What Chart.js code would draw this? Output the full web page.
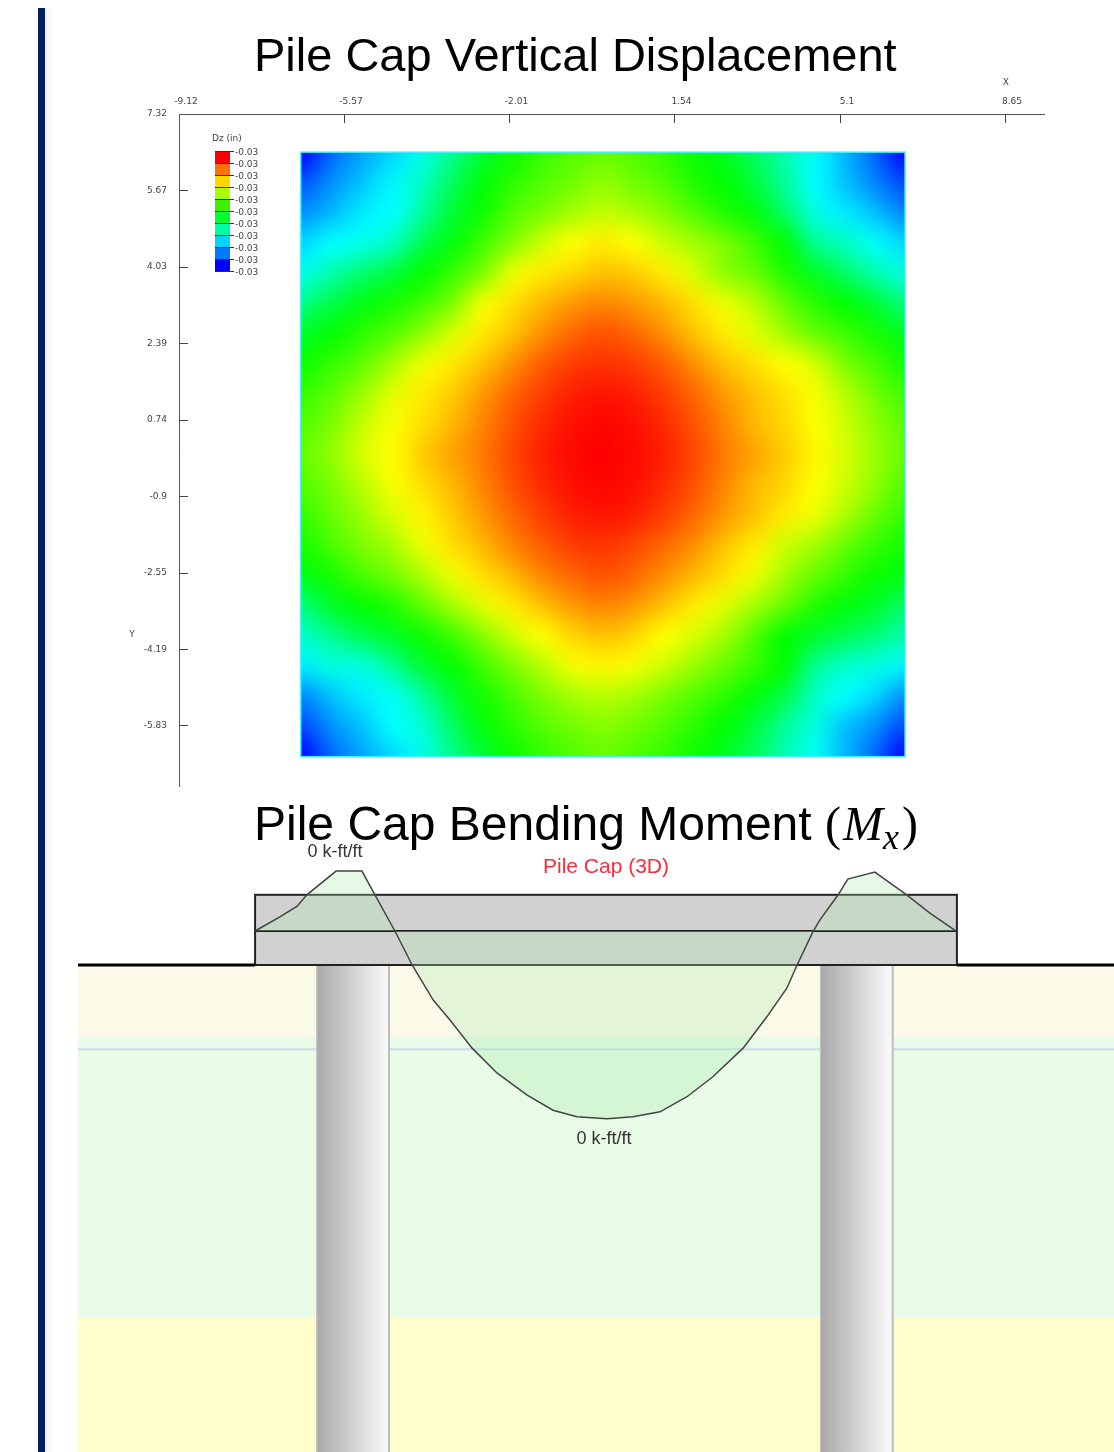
<!DOCTYPE html>
<html>
<head>
<meta charset="utf-8">
<title>Pile Cap</title>
<script src="https://cdn.jsdelivr.net/npm/chart.js@4/dist/chart.umd.js"></script>
<style>
    html, body { margin: 0; padding: 0; background: #fff; width: 1114px; height: 1452px; overflow: hidden; }
    canvas { position: absolute; left: 0; }
    #bar { position: absolute; left: 38px; top: 8px; width: 7px; height: 1444px; background: #002060; }
    #sombra { position: absolute; left: 45px; top: 8px; width: 10px; height: 1444px; background: linear-gradient(to right, #f1f1f1, #fff); }
    .titulo { position: absolute; white-space: nowrap; color: #000; font-family: "Liberation Sans", sans-serif; font-size: 47px; line-height: 50px; z-index: 2; }
    .titulo .m { font-family: "Liberation Serif", serif; }
    .titulo .m i { margin-left: 2px; }
    .titulo sub { font-size: 36px; line-height: 0; vertical-align: -9px; font-style: italic; }
</style>
</head>
<body>
<div id="bar"></div>
<div id="sombra"></div>
<div class="titulo" style="left:254px;top:30px">Pile Cap Vertical Displacement</div>
<div class="titulo" style="left:254px;top:799px;font-size:48px">Pile Cap Bending Moment <span class="m">(<i>M</i><sub>x</sub><span style="margin-left:3px">)</span></span></div>
<canvas id="desplazamiento" width="1114" height="790" style="top:0"></canvas>
<canvas id="momento" width="1114" height="662" style="top:790px"></canvas>
<script>
// contour plot (ft)
const xTicks = [-9.12, -5.57, -2.01, 1.54, 5.1, 8.65];
const yTicks = [7.32, 5.67, 4.03, 2.39, 0.74, -0.9, -2.55, -4.19, -5.83];
const capEdges = [-6.5, -5.85, -5.2, -4.55, -3.9, -3.25, -2.6, -1.95, -1.3, -0.65, 0, 0.65, 1.3, 1.95, 2.6, 3.25, 3.9, 4.55, 5.2, 5.85, 6.5];
const legendTitle = "Dz (in)";
const legendLabels = ["-0.03", "-0.03", "-0.03", "-0.03", "-0.03", "-0.03", "-0.03", "-0.03", "-0.03", "-0.03", "-0.03"];
const legendColors = ["#ff0000", "#ff7300", "#ffd800", "#a8ff00", "#3cf000", "#00ff33", "#00ffa5", "#00d5ff", "#0078ff", "#0000ff"];

const dz = [
    [0, .10, .16, .21, .27, .36, .45, .51, .55, .58, .60, .58, .55, .51, .47, .41, .33, .26, .18, .10, 0],
    [.08, .14, .19, .24, .31, .41, .49, .54, .58, .61, .64, .61, .58, .53, .50, .44, .35, .25, .19, .13, .07],
    [.14, .18, .23, .25, .34, .45, .51, .58, .62, .66, .69, .67, .63, .58, .53, .49, .40, .28, .23, .19, .13],
    [.21, .25, .27, .31, .42, .49, .56, .63, .70, .75, .77, .75, .70, .66, .62, .56, .50, .36, .31, .26, .21],
    [.27, .33, .39, .44, .50, .55, .62, .73, .77, .79, .81, .80, .77, .71, .64, .60, .53, .47, .40, .33, .28],
    [.37, .43, .48, .52, .56, .62, .74, .78, .82, .85, .87, .85, .82, .78, .73, .68, .60, .54, .50, .45, .38],
    [.46, .50, .54, .58, .64, .71, .77, .81, .86, .90, .92, .90, .86, .81, .77, .72, .66, .60, .56, .52, .47],
    [.51, .55, .59, .66, .73, .77, .81, .86, .91, .94, .95, .94, .91, .86, .81, .78, .75, .71, .62, .57, .52],
    [.55, .59, .65, .72, .77, .80, .85, .90, .94, .97, .98, .97, .94, .90, .85, .81, .78, .74, .68, .61, .56],
    [.58, .62, .69, .74, .78, .82, .87, .92, .96, .985, .995, .985, .96, .92, .87, .82, .79, .75, .70, .64, .59],
    [.60, .64, .71, .75, .80, .84, .88, .93, .97, .99, 1, .99, .97, .93, .88, .84, .80, .76, .71, .65, .60],
    [.58, .62, .68, .74, .78, .82, .87, .92, .96, .985, .995, .985, .96, .92, .87, .82, .79, .75, .70, .64, .58],
    [.55, .60, .65, .71, .76, .80, .85, .90, .94, .97, .98, .97, .94, .90, .85, .81, .77, .73, .67, .60, .55],
    [.52, .57, .62, .66, .73, .78, .82, .87, .91, .94, .95, .93, .90, .86, .81, .77, .70, .66, .60, .55, .52],
    [.48, .52, .57, .61, .67, .73, .78, .82, .87, .90, .92, .90, .86, .82, .78, .73, .66, .60, .55, .51, .48],
    [.38, .46, .50, .53, .59, .66, .72, .77, .81, .85, .87, .85, .81, .77, .72, .66, .60, .53, .49, .46, .40],
    [.30, .36, .42, .46, .51, .56, .63, .70, .75, .79, .81, .79, .75, .71, .66, .58, .50, .46, .42, .38, .33],
    [.23, .28, .28, .35, .45, .50, .56, .62, .68, .74, .76, .74, .70, .65, .60, .55, .50, .36, .30, .28, .24],
    [.13, .19, .23, .26, .34, .45, .52, .57, .62, .66, .68, .66, .62, .58, .54, .49, .43, .31, .25, .21, .14],
    [.07, .14, .19, .25, .29, .40, .49, .54, .58, .61, .63, .61, .58, .54, .50, .44, .35, .28, .19, .14, .07],
    [0, .10, .16, .21, .27, .36, .45, .51, .55, .58, .60, .58, .55, .51, .47, .41, .33, .26, .18, .10, 0],
];

// section view, elevations in ft from ground level
const momentX = [-6.50, -6.04, -5.72, -5.54, -5.00, -4.52, -4.28, -3.91, -3.59, -3.50, -3.20, -2.89, -2.48, -2.02, -1.46, -0.98, -0.54, 0.02, 0.50, 1.00, 1.50, 1.98, 2.54, 2.98, 3.35, 3.54, 3.83, 3.96, 4.30, 4.48, 4.98, 5.57, 6.00, 6.48];
const momentY = [0.63, 0.89, 1.09, 1.30, 1.74, 1.74, 1.30, 0.63, 0, -0.15, -0.65, -1.02, -1.54, -2.00, -2.41, -2.69, -2.81, -2.85, -2.81, -2.72, -2.44, -2.07, -1.54, -0.96, -0.43, 0, 0.61, 0.83, 1.30, 1.59, 1.72, 1.30, 0.96, 0.63];
const momentBase = 0.63;
const momentLabel = "0 k-ft/ft";
const capLabel = "Pile Cap (3D)";
const capX = [-6.5, 6.5];
const capLevels = [1.30, 0.63, 0];
const pileX = [[-5.35, -4.02], [3.98, 5.31]];
const soilBottoms = [-1.33, -6.54, -9.02];
const waterLevel = -1.56;

const soilColors = ["#fbfae8", "#e7fbe7", "#fefdcb"];

function rainbow(v) {
    const t = Math.max(0, Math.min(1, v)) * 4;
    const k = Math.min(3, Math.floor(t));
    const f = t - k;
    const c = [[0, f, 1], [0, 1, 1 - f], [f, 1, 0], [1, 1 - f, 0]][k];
    return c.map((n) => Math.round(n * 255));
}

const contourPlugin = {
    id: "contour",
    beforeDatasetsDraw(chart) {
        const ctx = chart.ctx;
        const { x, y } = chart.scales;
        const n = capEdges.length;
        const off = document.createElement("canvas");
        off.width = n;
        off.height = n;
        const octx = off.getContext("2d");
        const img = octx.createImageData(n, n);
        dz.forEach((fila, j) => fila.forEach((v, i) => {
            const c = rainbow(v);
            img.data.set([c[0], c[1], c[2], 255], (j * n + i) * 4);
        }));
        octx.putImageData(img, 0, 0);

        const x0 = x.getPixelForValue(capEdges[0]);
        const x1 = x.getPixelForValue(capEdges[n - 1]);
        const y0 = y.getPixelForValue(capEdges[n - 1]);
        const y1 = y.getPixelForValue(capEdges[0]);
        const dx = (x1 - x0) / (n - 1);
        const dy = (y1 - y0) / (n - 1);
        ctx.save();
        ctx.beginPath();
        ctx.rect(x0, y0, x1 - x0, y1 - y0);
        ctx.clip();
        ctx.imageSmoothingEnabled = true;
        ctx.imageSmoothingQuality = "high";
        ctx.drawImage(off, x0 - dx / 2, y0 - dy / 2, dx * n, dy * n);
        ctx.restore();
        ctx.strokeStyle = "#3ff0f5";
        ctx.lineWidth = 1.5;
        ctx.strokeRect(x0, y0, x1 - x0, y1 - y0);
    },
    afterDraw(chart) {
        const ctx = chart.ctx;
        const { x, y } = chart.scales;
        const area = chart.chartArea;
        ctx.save();
        // inward tick marks
        ctx.strokeStyle = "#444";
        ctx.lineWidth = 1;
        ctx.beginPath();
        xTicks.slice(1).forEach((v) => {
            const p = Math.round(x.getPixelForValue(v)) + 0.5;
            ctx.moveTo(p, area.top);
            ctx.lineTo(p, area.top + 9);
        });
        yTicks.slice(1).forEach((v) => {
            const p = Math.floor(y.getPixelForValue(v)) + 0.5;
            ctx.moveTo(area.left, p);
            ctx.lineTo(area.left + 9, p);
        });
        ctx.stroke();

        ctx.font = "9px 'DejaVu Sans'";
        ctx.fillStyle = "#444";
        ctx.textAlign = "center";
        ctx.textBaseline = "middle";
        ctx.fillText("X", x.getPixelForValue(8.65) + 1, 83);
        ctx.fillText("Y", 132, 635);

        // colour key
        const kx = 215, ky = 151, kw = 15, kh = 12;
        legendColors.forEach((c, i) => {
            ctx.fillStyle = c;
            ctx.fillRect(kx, ky + i * kh, kw, kh);
        });
        ctx.strokeStyle = "#333";
        ctx.beginPath();
        legendLabels.forEach((_, i) => {
            const p = ky + i * kh + 0.5;
            ctx.moveTo(kx, p);
            ctx.lineTo(kx + kw + 4, p);
        });
        ctx.stroke();
        ctx.fillStyle = "#444";
        ctx.textAlign = "left";
        legendLabels.forEach((t, i) => ctx.fillText(t, kx + kw + 5, ky + 2 + i * kh));
        ctx.fillText(legendTitle, 212, 139);
        ctx.restore();
    },
};

const sectionPlugin = {
    id: "section",
    beforeDatasetsDraw(chart) {
        const ctx = chart.ctx;
        const { x, y } = chart.scales;
        const area = chart.chartArea;
        const groundY = y.getPixelForValue(0);
        ctx.save();

        let top = groundY;
        soilBottoms.forEach((b, i) => {
            const bottom = y.getPixelForValue(b);
            ctx.fillStyle = soilColors[i];
            ctx.fillRect(area.left, top, area.right - area.left, bottom - top);
            top = bottom;
        });

        ctx.strokeStyle = "#c9daef";
        ctx.lineWidth = 2;
        ctx.beginPath();
        ctx.moveTo(area.left, y.getPixelForValue(waterLevel));
        ctx.lineTo(area.right, y.getPixelForValue(waterLevel));
        ctx.stroke();

        pileX.forEach((p) => {
            const a = x.getPixelForValue(p[0]);
            const b = x.getPixelForValue(p[1]);
            const grad = ctx.createLinearGradient(a, 0, b, 0);
            grad.addColorStop(0, "#a9a9a9");
            grad.addColorStop(0.5, "#d2d2d2");
            grad.addColorStop(1, "#fbfbfb");
            ctx.fillStyle = grad;
            ctx.fillRect(a, groundY, b - a, area.bottom - groundY);
            ctx.fillStyle = "#bdbdbd";
            ctx.fillRect(b - 1, groundY, 2, area.bottom - groundY);
            ctx.fillRect(a - 1, groundY, 1, area.bottom - groundY);
        });

        const cx0 = x.getPixelForValue(capX[0]);
        const cx1 = x.getPixelForValue(capX[1]);
        const cy0 = y.getPixelForValue(capLevels[0]);
        ctx.fillStyle = "#d1d1d1";
        ctx.fillRect(cx0, cy0, cx1 - cx0, groundY - cy0);
        ctx.strokeStyle = "#222";
        ctx.lineWidth = 2;
        ctx.strokeRect(cx0, cy0, cx1 - cx0, groundY - cy0);
        ctx.beginPath();
        ctx.moveTo(cx0, y.getPixelForValue(capLevels[1]));
        ctx.lineTo(cx1, y.getPixelForValue(capLevels[1]));
        ctx.stroke();

        ctx.strokeStyle = "#000";
        ctx.lineWidth = 3;
        ctx.beginPath();
        ctx.moveTo(area.left, groundY);
        ctx.lineTo(cx0, groundY);
        ctx.moveTo(cx1, groundY);
        ctx.lineTo(area.right, groundY);
        ctx.stroke();
        ctx.restore();
    },
    afterDatasetsDraw(chart) {
        const ctx = chart.ctx;
        const { x, y } = chart.scales;
        const peak = momentY.indexOf(Math.max(...momentY));
        const low = momentY.indexOf(Math.min(...momentY));
        ctx.save();
        ctx.textAlign = "center";
        ctx.textBaseline = "middle";
        ctx.font = "18px 'Liberation Sans'";
        ctx.fillStyle = "#333";
        ctx.fillText(momentLabel, x.getPixelForValue(momentX[peak]) - 1, y.getPixelForValue(momentY[peak]) - 19);
        ctx.fillText(momentLabel, x.getPixelForValue(momentX[low]) - 3, y.getPixelForValue(momentY[low]) + 20);
        ctx.font = "21px 'Liberation Sans'";
        ctx.fillStyle = "#ff2a3a";
        ctx.fillText(capLabel, x.getPixelForValue(0), y.getPixelForValue(capLevels[0]) - 28);
        ctx.restore();
    },
};

new Chart(document.getElementById("desplazamiento"), {
    type: "scatter",
    data: { datasets: [{ label: "Dz (in)", data: [], pointRadius: 0 }] },
    plugins: [contourPlugin],
    options: {
        responsive: false,
        animation: false,
        layout: { padding: { left: 129, top: 84, right: 70, bottom: 4 } },
        plugins: { legend: { display: false }, tooltip: { enabled: false } },
        scales: {
            x: {
                type: "linear",
                position: "top",
                min: -9.12,
                max: 9.49,
                grid: { display: false, drawTicks: false },
                border: { display: true, color: "#555" },
                afterBuildTicks: (s) => { s.ticks = xTicks.map((v) => ({ value: v })); },
                afterFit: (s) => { s.height = 30; s.paddingLeft = 0; s.paddingRight = 0; },
                ticks: {
                    autoSkip: false, maxRotation: 0, padding: 7, labelOffset: 7, color: "#444",
                    font: { family: "DejaVu Sans", size: 9 },
                    callback: (v) => String(v),
                },
            },
            y: {
                type: "linear",
                position: "left",
                min: -7.13,
                max: 7.32,
                grid: { display: false, drawTicks: false },
                border: { display: true, color: "#555" },
                afterBuildTicks: (s) => { s.ticks = yTicks.map((v) => ({ value: v })); },
                afterFit: (s) => { s.width = 50; s.paddingTop = 0; s.paddingBottom = 0; },
                ticks: {
                    autoSkip: false, padding: 12, color: "#444",
                    font: { family: "DejaVu Sans", size: 9 },
                    callback: (v) => String(v),
                },
            },
        },
    },
});

new Chart(document.getElementById("momento"), {
    type: "scatter",
    data: {
        datasets: [{
            label: "Mx",
            data: momentX.map((v, i) => ({ x: v, y: momentY[i] })),
            showLine: true,
            tension: 0,
            pointRadius: 0,
            borderColor: "#444",
            borderWidth: 1.5,
            backgroundColor: "rgba(172, 236, 172, 0.3)",
            fill: { value: momentBase },
        }],
    },
    plugins: [sectionPlugin],
    options: {
        responsive: false,
        animation: false,
        layout: { padding: { left: 78, top: 50, right: 0, bottom: 0 } },
        plugins: { legend: { display: false }, tooltip: { enabled: false } },
        scales: {
            x: { type: "linear", display: false, min: -9.78, max: 9.41 },
            y: { type: "linear", display: false, min: -9.02, max: 2.315 },
        },
    },
});
</script>
</body>
</html>
